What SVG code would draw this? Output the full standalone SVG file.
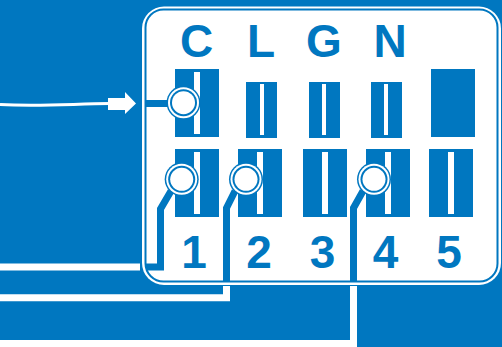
<svg xmlns="http://www.w3.org/2000/svg" width="502" height="347" viewBox="0 0 502 347">
<style>
.t{fill:#0077c0}
.s{fill:#fff}
.w{fill:none;stroke:#0077c0;stroke-width:7;stroke-linejoin:miter}
.o{fill:none;stroke:#fff;stroke-width:7;stroke-linejoin:miter}
.l{font-family:"Liberation Sans Narrow","Liberation Sans",Arial,sans-serif;font-weight:700;font-size:46px;fill:#0077c0;text-anchor:middle}
</style>
<rect width="502" height="347" fill="#0077c0"/>
<g id="wires-outside">
<path class="o" d="M0 267H140"/>
<path class="o" d="M0 297.700H226.500V286"/>
<path class="o" d="M0 343.500H353.500V286"/>
<path d="M0 104.500C40 106.500 70 104 110 103.500" fill="none" stroke="#fff" stroke-width="3"/>
<path id="arrow" d="M108 98H125V92L136 103.500L125 114V110H108Z" fill="#fff"/>
</g>
<g id="panel">
<rect x="142" y="6.500" width="359" height="278.500" rx="22" fill="#fff"/>
<rect x="145.500" y="9.500" width="352" height="272" rx="18" fill="#fff" stroke="#0077c0" stroke-width="2"/>
</g>
<g id="term-C"><rect class="t" x="175" y="69" width="44" height="68"/><rect class="s" x="194" y="72" width="6" height="62"/></g>
<g id="term-L"><rect class="t" x="246" y="82" width="31" height="56"/><rect class="s" x="260" y="84" width="4" height="51"/></g>
<g id="term-G"><rect class="t" x="309" y="82" width="31" height="56"/><rect class="s" x="322" y="84" width="4" height="51"/></g>
<g id="term-N"><rect class="t" x="371" y="82" width="31" height="56"/><rect class="s" x="384" y="84" width="4" height="51"/></g>
<g id="term-blank"><rect class="t" x="431" y="69" width="44" height="68"/></g>
<g id="term-1"><rect class="t" x="175" y="149" width="44" height="68"/><rect class="s" x="194" y="152" width="6" height="62"/></g>
<g id="term-2"><rect class="t" x="238" y="149" width="44" height="68"/><rect class="s" x="257" y="152" width="6" height="62"/></g>
<g id="term-3"><rect class="t" x="303" y="149" width="44" height="68"/><rect class="s" x="322" y="152" width="6" height="62"/></g>
<g id="term-4"><rect class="t" x="366" y="149" width="44" height="68"/><rect class="s" x="385" y="152" width="6" height="62"/></g>
<g id="term-5"><rect class="t" x="429" y="149" width="44" height="68"/><rect class="s" x="448" y="152" width="6" height="62"/></g>
<g id="connectors">
<path class="w" d="M145 103.500H172"/>
<path class="w" d="M171 191L160.500 209V267H146"/>
<path class="w" d="M235 191L226.500 208V281"/>
<path class="w" d="M363 191L353.500 208V281"/>
</g>
<defs>
<g id="ring"><circle r="17" fill="#0077c0"/><circle r="15.500" fill="#fff"/><circle r="13.500" fill="#0077c0"/><circle r="11.500" fill="#fff"/></g>
</defs>
<g id="pin-C"><use href="#ring" x="183.500" y="102.700"/></g>
<g id="pin-1"><use href="#ring" x="181.700" y="179.300"/></g>
<g id="pin-2"><use href="#ring" x="246" y="179.300"/></g>
<g id="pin-4"><use href="#ring" x="374" y="179.300"/></g>
<g id="labels">
<text class="l" x="196.500" y="56.500">C</text>
<text class="l" x="261" y="56.500">L</text>
<text class="l" x="324" y="56.500">G</text>
<text class="l" x="390" y="56.500">N</text>
<text class="l" x="194" y="268">1</text>
<text class="l" x="259" y="268">2</text>
<text class="l" x="322.500" y="268">3</text>
<text class="l" x="385.500" y="268">4</text>
<text class="l" x="449" y="268">5</text>
</g>
</svg>
